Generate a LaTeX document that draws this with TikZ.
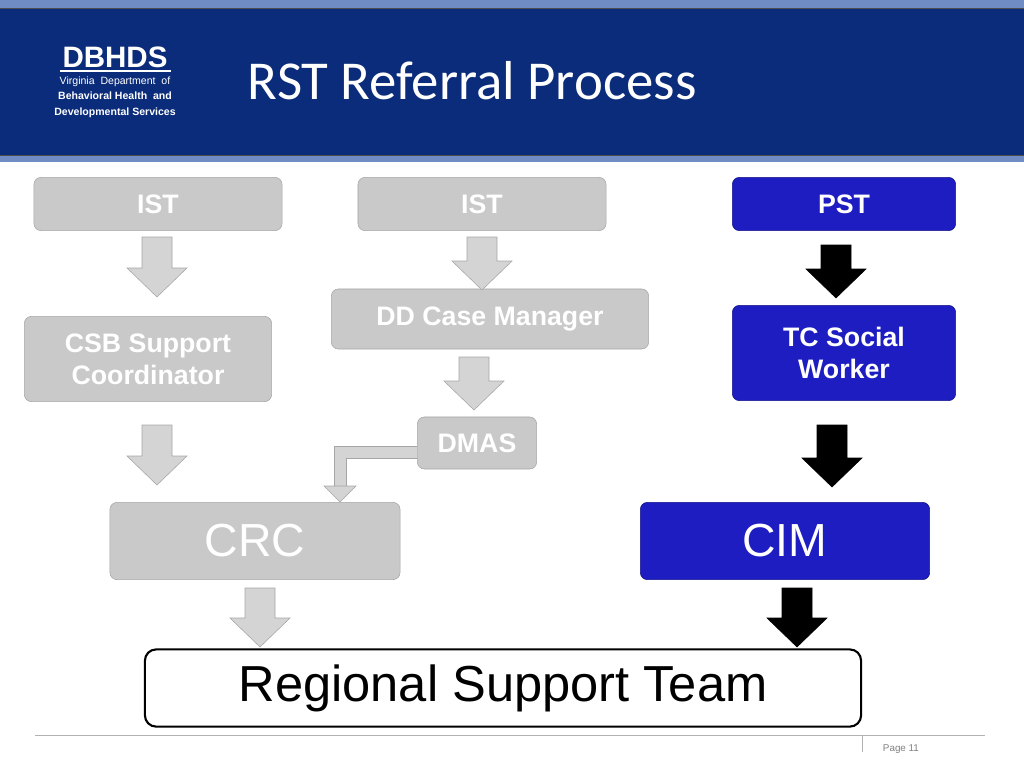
\documentclass[tikz,border=0pt]{standalone}
\usepackage{fontspec}
\setmainfont{Liberation Sans}
\newfontfamily\titlefont{Carlito}
\usepackage{tikz}
\usetikzlibrary{arrows.meta, positioning, calc}
\definecolor{HeadBlue}{HTML}{0B2C7A}
\definecolor{StripBlue}{HTML}{6F8CC4}
\definecolor{BoxGray}{HTML}{C9C9C9}
\definecolor{BoxBlue}{HTML}{1D1DC2}
\tikzset{
  % Box styles
  graybox/.style={rectangle, rounded corners=5pt, draw=gray!70, fill=BoxGray, text=white, font=\bfseries\fontsize{19}{23}\selectfont, align=center, inner sep=0pt},
  bluebox/.style={graybox, draw=BoxBlue!70!black, fill=BoxBlue},
  % Block arrow styles
  grayarrow/.style={draw=gray!70, fill=BoxGray!80},
  blackarrow/.style={draw=black, fill=black}
}
% block arrow: name, x, top y, bottom y, style
\newcommand{\blockarrow}[5]{%
  \draw[#5] (#2-15,#3) -- (#2+15,#3) -- (#2+15,{#4-29}) -- (#2+30,{#4-29})
    -- (#2,#4) -- (#2-30,{#4-29}) -- (#2-15,{#4-29}) -- cycle;
  \coordinate (#1) at (#2,#4);}
\begin{document}
\begin{tikzpicture}[x=0.025cm, y=-0.025cm]
  \useasboundingbox (0,0) rectangle (1024,768);
  % Header band
  \fill[StripBlue] (0,0) rectangle (1024,162);
  \fill[HeadBlue] (0,8) rectangle (1024,155);
  \draw[black!70] (0,8) -- (1024,8) (0,155) -- (1024,155);
  \node[text=white, font=\bfseries\fontsize{21}{22}\selectfont] (logo) at (115,57) {DBHDS};
  \draw[white, line width=1pt] (60,71) -- (171,71);
  \node[text=white, font=\fontsize{7.5}{11}\selectfont, align=center] (dept) at (115,97) {Virginia\ \ Department\ \ of\\\textbf{Behavioral Health\ \ and}\\\textbf{Developmental Services}};
  \node[text=white, anchor=west, font=\titlefont\fontsize{39}{42}\selectfont] (title) at (243,81) {RST Referral Process};

  % Top row
  \node[graybox, minimum width=6.2cm, minimum height=1.33cm] (ist1) at (158,204) {IST};
  \node[graybox, minimum width=6.2cm, minimum height=1.33cm] (ist2) at (482,204) {IST};
  \node[bluebox, minimum width=5.58cm, minimum height=1.33cm] (pst) at (844,204) {PST};

  % Second row
  \node[graybox, minimum width=7.93cm, minimum height=1.5cm] (ddcm) at (490,319) {DD Case Manager};
  \node[graybox, minimum width=6.18cm, minimum height=2.13cm] (csb) at (148,359) {CSB Support\\Coordinator};
  \node[bluebox, minimum width=5.58cm, minimum height=2.38cm] (tcsw) at (844,353) {TC Social\\Worker};
  \node[graybox, minimum width=2.98cm, minimum height=1.3cm] (dmas) at (477,443) {DMAS};

  % Third row
  \node[graybox, minimum width=7.25cm, minimum height=1.93cm, font=\fontsize{33}{36}\selectfont] (crc) at (255,541) {CRC};
  \node[bluebox, minimum width=7.23cm, minimum height=1.93cm, font=\fontsize{33}{36}\selectfont] (cim) at (785,541) {CIM};

  % Bottom team box
  \node[rectangle, rounded corners=8pt, draw=black, line width=1.5pt, fill=white, minimum width=17.9cm, minimum height=1.93cm, font=\fontsize{36}{40}\selectfont] (rst) at (503,688) {Regional Support Team};

  % Block arrows
  \blockarrow{a1}{157}{237}{297}{grayarrow}
  \blockarrow{a2}{482}{237}{290}{grayarrow}
  \blockarrow{a3}{836}{245}{298}{blackarrow}
  \blockarrow{a4}{474}{357}{410}{grayarrow}
  \blockarrow{a5}{157}{425}{485}{grayarrow}
  \blockarrow{a6}{832}{425}{487}{blackarrow}
  \blockarrow{a7}{260}{588}{647}{grayarrow}
  \blockarrow{a8}{797}{588}{647}{blackarrow}

  % Elbow from DMAS to CRC
  \coordinate (elbow) at (340,452);
  \fill[BoxGray!80] (dmas.west |- 0,446) -- (334,446) -- (334,488) -- (346,488) -- (346,458) -- (dmas.west |- 0,458) -- cycle;
  \draw[gray!70] (dmas.west |- 0,446) -- (334,446) -- (334,488) (dmas.west |- 0,458) -- (346,458) -- (346,488);
  \fill[BoxGray!80, draw=gray!70] (324,486) -- (356,486) -- (340,502) -- cycle;

  % Footer
  \draw[gray!60] (35,735) -- (985,735);
  \draw[gray!60] (862,735) -- (862,752);
  \node[text=gray, font=\fontsize{7}{8}\selectfont, anchor=west] (page) at (878,749) {Page 11};
\end{tikzpicture}
\end{document}
